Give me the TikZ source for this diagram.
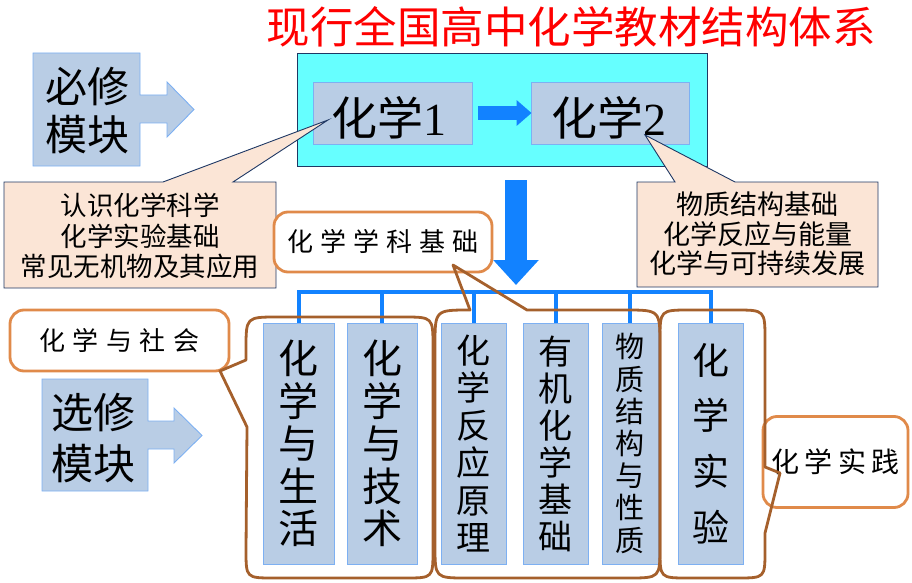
\documentclass[tikz,border=0pt]{standalone}
\usepackage{fontspec}
\setmainfont{Noto Sans CJK SC}
\newfontfamily\latinserif{Liberation Serif}
\usetikzlibrary{arrows.meta}
\definecolor{lblue}{HTML}{B9CDE5}
\definecolor{lbord}{HTML}{7DB0F2}
\definecolor{cyanf}{HTML}{66FFFF}
\definecolor{navy}{HTML}{1F3864}
\definecolor{peach}{HTML}{FBE5D6}
\definecolor{barrowc}{HTML}{1282FF}
\definecolor{brownc}{HTML}{A5602C}
\definecolor{orangeb}{HTML}{E08A4A}
\begin{document}
\begin{tikzpicture}[x=1pt,y=-1pt,
  lbox/.style={draw=lbord, fill=lblue, line width=0.9pt, inner sep=0pt},
  vbox/.style={lbox, minimum height=241pt, align=center},
  callout/.style={draw=navy, fill=peach, line width=0.9pt},
  grp/.style={draw=brownc, line width=2.8pt, line join=round},
  labelbox/.style={draw=orangeb, fill=white, line width=2.8pt, rounded corners=14pt, inner sep=0pt},
  bline/.style={draw=barrowc, line width=4pt}
]
\useasboundingbox (0,0) rectangle (912,583);

% title
\node[text=red, font=\fontsize{43.5}{48}\selectfont] (title) at (571,27) {现行全国高中化学教材结构体系};

% required module arrow-box
\draw[lbox] (33,53) -- (140,53) -- (140,95) -- (167,95) -- (167,82) -- (194,109.5) -- (167,137) -- (167,123) -- (140,123) -- (140,166) -- (33,166) -- cycle;
\node[font=\fontsize{42}{48}\selectfont, align=center] (bx) at (87,111) {必修\\模块};

% cyan box and two modules
\node[draw=navy, fill=cyanf, line width=0.9pt, minimum width=410pt, minimum height=113pt, inner sep=0pt] (cyan) at (502,109.5) {};
\node[lbox, minimum width=159pt, minimum height=62pt] (c1) at (392.5,113) {};
\node[lbox, minimum width=158pt, minimum height=62pt] (c2) at (610,113) {};
\node[font=\fontsize{46}{50}\selectfont] (c1t) at (389,118) {化学{\latinserif 1}};
\node[font=\fontsize{46}{50}\selectfont] (c2t) at (609,118) {化学{\latinserif 2}};
\draw[barrowc, line width=14pt, -{Triangle[length=15pt,width=25pt]}] ([xshift=6pt]c1.east) -- ([xshift=1pt]c2.west);

% callouts
\draw[callout] (4,182) -- (163,182) -- (328,120) -- (233,182) -- (276,182) -- (276,288) -- (4,288) -- cycle;
\node[font=\fontsize{26.5}{30.5}\selectfont, align=center] (k1) at (140,236) {认识化学科学\\化学实验基础\\常见无机物及其应用};
\draw[callout] (637,182) -- (675,182) -- (645,135) -- (735,182) -- (878,182) -- (878,287) -- (637,287) -- cycle;
\node[font=\fontsize{27}{29.5}\selectfont, align=center] (k2) at (757.5,234) {物质结构基础\\化学反应与能量\\化学与可持续发展};

% big down arrow
\draw[barrowc, line width=22pt, -{Triangle[length=25pt,width=44pt]}] (516,180) -- (516,285);

% elective arrow-box
\draw[lbox] (42,379) -- (148,379) -- (148,421) -- (174,421) -- (174,408) -- (202,435.5) -- (174,463) -- (174,449) -- (148,449) -- (148,491) -- (42,491) -- cycle;
\node[font=\fontsize{42}{51}\selectfont, align=center] (sx) at (93,438) {选修\\模块};

% elective modules
\node[vbox, minimum width=71pt, font=\fontsize{40}{42.5}\selectfont] (b1) at (298.5,443.5) {化\\学\\与\\生\\活};
\node[vbox, minimum width=70pt, font=\fontsize{40}{42.5}\selectfont] (b2) at (382,443.5) {化\\学\\与\\技\\术};
\node[vbox, minimum width=65pt, font=\fontsize{34}{37.4}\selectfont] (b3) at (473.5,443.5) {化\\学\\反\\应\\原\\理};
\node[vbox, minimum width=65pt, font=\fontsize{34}{37}\selectfont] (b4) at (555.5,443.5) {有\\机\\化\\学\\基\\础};
\node[vbox, minimum width=56pt, font=\fontsize{29}{32.2}\selectfont] (b5) at (630,443.5) {物\\质\\结\\构\\与\\性\\质};
\node[vbox, minimum width=65pt, font=\fontsize{37}{55.7}\selectfont] (b6) at (710.5,443.5) {化\\学\\实\\验};

% blue bracket
\coordinate (bar) at (0,292);
\draw[bline] (b1.north) -- (b1.north |- bar) -- (b6.north |- bar) -- (b6.north);
\foreach \b in {b2,b3,b4,b5} \draw[bline] (\b.north) -- (\b.north |- bar);

% labels
\node[labelbox, minimum width=219pt, minimum height=61pt, font=\fontsize{26}{30}\selectfont] (lsoc) at (119.5,340.5) {化\kern7.5pt 学\kern7.5pt 与\kern7.5pt 社\kern7.5pt 会};
\node[labelbox, minimum width=218pt, minimum height=60pt, font=\fontsize{26}{30}\selectfont] (lsci) at (383,242) {化\kern7pt 学\kern7pt 学\kern7pt 科\kern7pt 基\kern7pt 础};
\node[labelbox, minimum width=145pt, minimum height=91pt, font=\fontsize{28}{32}\selectfont] (lprac) at (835.5,462) {化\kern5.5pt 学\kern5.5pt 实\kern5.5pt 践};

% brown group outlines
\draw[grp] (246,360) -- (220,371) -- (247,427) -- (246,550) .. controls (246,578) .. (274,578) -- (405,578) .. controls (433,578) .. (433,550) -- (433,347) .. controls (433,317) .. (403,317) -- (278,317) .. controls (246,317) .. (246,349) -- cycle;
\draw[grp] (435,345) .. controls (435,310) .. (470,310) -- (453,265) -- (527,310) -- (625,310) .. controls (660,310) .. (660,345) -- (660,546) .. controls (660,578) .. (628,578) -- (467,578) .. controls (435,578) .. (435,546) -- cycle;
\draw[grp] (765,467) -- (780,473) -- (765,533) -- (765,550) .. controls (765,578) .. (737,578) -- (688,578) .. controls (660,578) .. (660,550) -- (660,340) .. controls (660,310) .. (690,310) -- (735,310) .. controls (765,310) .. (765,340) -- cycle;
\end{tikzpicture}
\end{document}
